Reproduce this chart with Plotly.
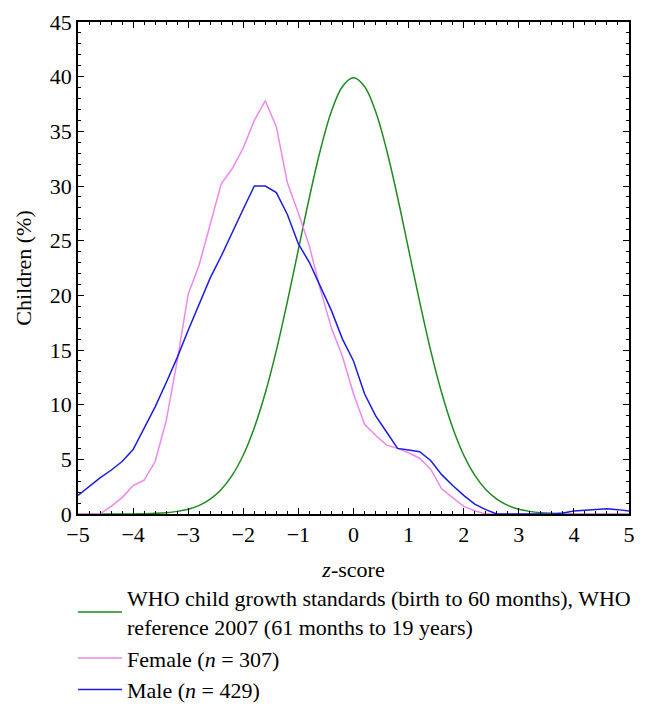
import plotly.graph_objects as go

# z-score grid (step 0.2)
z = [round(-5 + 0.2 * i, 1) for i in range(51)]

# WHO reference curve (%)
who = [0, 0, 0, 0, 0, 0.01, 0.03, 0.06, 0.12, 0.24,
       0.44, 0.79, 1.36, 2.24, 3.55, 5.40, 7.90, 11.09, 14.97, 19.42,
       24.20, 28.97, 33.32, 36.83, 39.10, 39.89, 39.10, 36.83, 33.32, 28.97,
       24.20, 19.42, 14.97, 11.09, 7.90, 5.40, 3.55, 2.24, 1.36, 0.79,
       0.44, 0.24, 0.12, 0.06, 0.03, 0.01, 0, 0, 0, 0, 0]

female = [0, 0, 0, 0.7, 1.5, 2.6, 3.1, 4.8, 8.5, 14.0,
          20.1, 22.8, 26.4, 30.2, 31.6, 33.5, 36.0, 37.8, 35.4, 30.3,
          27.5, 24.5, 20.5, 17.0, 14.4, 11.0, 8.2, 7.2, 6.3, 6.0,
          5.6, 5.1, 4.1, 2.3, 1.5, 0.7, 0.3, 0, 0, 0,
          0, 0, 0, 0, 0, 0, 0, 0, 0, 0, 0]

male = [1.7, 2.5, 3.3, 4.0, 4.8, 5.9, 7.9, 9.8, 12.0, 14.3,
        16.8, 19.2, 21.6, 23.6, 25.8, 27.9, 30.0, 30.0, 29.4, 27.4,
        24.7, 23.0, 20.8, 18.6, 16.0, 14.0, 11.0, 9.0, 7.5, 6.0,
        5.85, 5.7, 4.9, 3.6, 2.6, 1.7, 0.9, 0.4, 0, 0,
        0, 0, 0, 0, 0.1, 0.28, 0.35, 0.42, 0.49, 0.4, 0.28]

FONT = "Liberation Serif"
FS = 22

fig = go.Figure()
fig.add_trace(go.Scatter(x=z, y=who, mode="lines", line_shape="spline",
                         line=dict(color="#1f8a1f", width=1.5),
                         name="WHO child growth standards (birth to 60 months), WHO<br>reference 2007 (61 months to 19 years)"))
fig.add_trace(go.Scatter(x=z, y=female, mode="lines",
                         line=dict(color="#ee88ee", width=1.5),
                         name="Female (<i>n</i> = 307)"))
fig.add_trace(go.Scatter(x=z, y=male, mode="lines",
                         line=dict(color="#1c1ce0", width=1.5),
                         name="Male (<i>n</i> = 429)"))

axis_common = dict(showgrid=False, zeroline=False, showline=True,
                   linecolor="black", linewidth=1.5, mirror="allticks",
                   ticks="inside", ticklen=6, tickwidth=1.2, tickcolor="black",
                   automargin=False,
                   tickfont=dict(family=FONT, size=FS, color="black"))

fig.update_xaxes(range=[-5, 5], dtick=1, tickformat="d",
                 minor=dict(ticks="inside", dtick=0.2, ticklen=3, tickcolor="black"),
                 title=dict(text="<i>z</i>-score", font=dict(family=FONT, size=FS, color="black"),
                            standoff=15),
                 **axis_common)
fig.update_yaxes(range=[0, 45], dtick=5,
                 minor=dict(ticks="inside", dtick=1, ticklen=3, tickcolor="black"),
                 title=dict(text="Children (%)", font=dict(family=FONT, size=FS, color="black"),
                            standoff=12),
                 **axis_common)

# page body adds 8px offset, so the figure is a bit smaller than the window
fig.update_layout(
    width=648, height=697,
    margin=dict(l=70, r=27, t=14, b=191, autoexpand=False),
    plot_bgcolor="white", paper_bgcolor="white",
    font=dict(family=FONT, size=FS, color="black"),
    showlegend=True,
    legend=dict(x=-0.009, xanchor="left", y=-0.128, yanchor="top",
                font=dict(family=FONT, size=FS, color="black"),
                itemwidth=44, tracegroupgap=0, bgcolor="rgba(0,0,0,0)"),
)

fig.write_html("out.html")
